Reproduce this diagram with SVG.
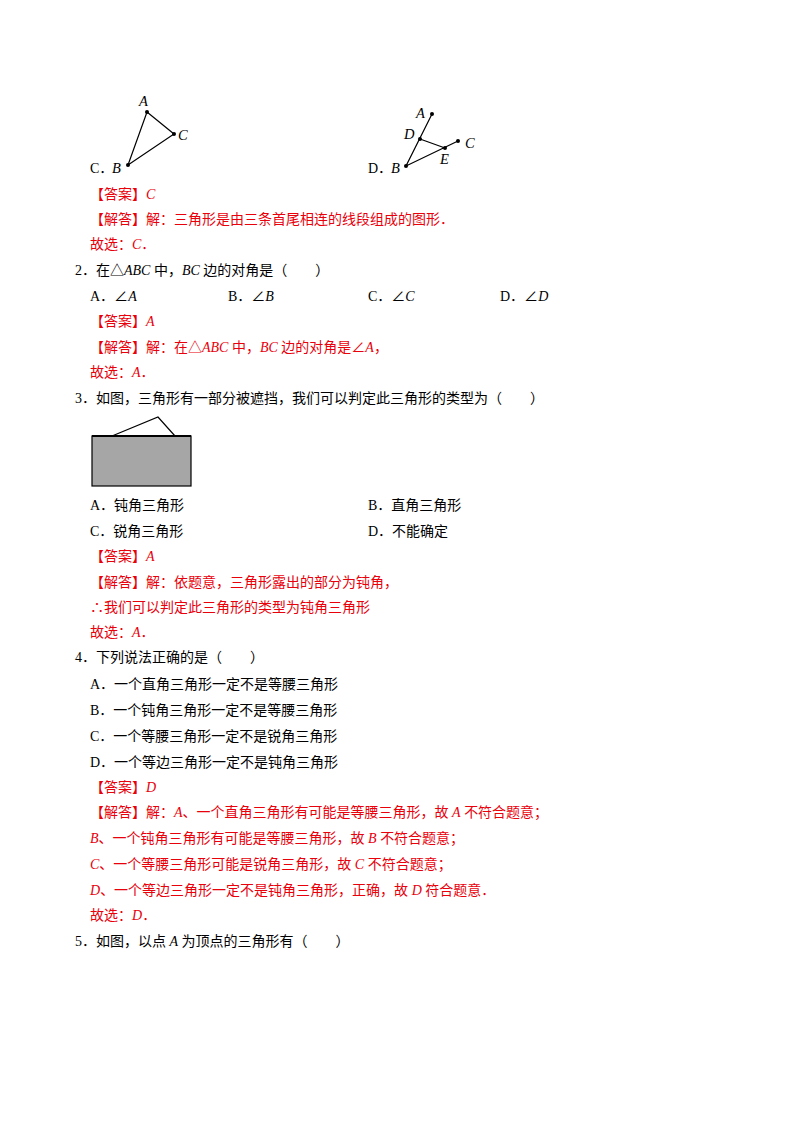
<svg xmlns="http://www.w3.org/2000/svg" width="800" height="1132" viewBox="0 0 800 1132">
<style>
text{font-family:"Liberation Serif","Noto Sans CJK SC",serif;font-size:14px;fill:#000}
.r{fill:#e8000b}
.i{font-style:italic}
.l{font-family:"Liberation Serif",serif;font-style:italic;font-size:14.5px}
.ln{stroke:#000;stroke-width:1.2;fill:none}
</style>
<rect width="800" height="1132" fill="#fff"/>
<g id="figC">
<path class="ln" d="M147,112 L174,134 L128,165 Z"/>
<circle cx="147" cy="112" r="2"/><circle cx="174" cy="134" r="2"/><circle cx="128" cy="165" r="2"/>
<text class="l" x="139" y="106">A</text><text class="l" x="178" y="140">C</text><text class="l" x="112" y="173">B</text>
<text x="90" y="173">C．</text>
</g>
<g id="figD">
<path class="ln" d="M432,114 L406,166 L458,141 M420,139 L445,148"/>
<circle cx="432" cy="114" r="2"/><circle cx="420" cy="139" r="2"/><circle cx="445" cy="148" r="2"/><circle cx="458" cy="141" r="2"/><circle cx="406" cy="166" r="2"/>
<text class="l" x="416" y="118">A</text><text class="l" x="404" y="139">D</text><text class="l" x="465" y="148">C</text><text class="l" x="440" y="164">E</text><text class="l" x="391" y="173">B</text>
<text x="368" y="173">D．</text>
</g>
<g id="fig3">
<rect x="92" y="436" width="99" height="50" fill="#a6a6a6" stroke="#000" stroke-width="1.2"/>
<path class="ln" d="M112,436 L158,417 L175,436"/>
<line x1="92" y1="436" x2="191" y2="436" stroke="#000" stroke-width="2"/>
</g>
<g id="text">
<text class="r" x="90" y="199">【答案】<tspan class="i">C</tspan></text>
<text class="r" x="90" y="224">【解答】解：三角形是由三条首尾相连的线段组成的图形．</text>
<text class="r" x="90" y="249">故选：<tspan class="i">C</tspan>．</text>
<text x="75" y="275">2．在△<tspan class="i">ABC</tspan> 中，<tspan class="i">BC</tspan> 边的对角是（　　）</text>
<text x="90" y="301">A．∠<tspan class="i">A</tspan></text>
<text x="228" y="301">B．∠<tspan class="i">B</tspan></text>
<text x="368" y="301">C．∠<tspan class="i">C</tspan></text>
<text x="500" y="301">D．∠<tspan class="i">D</tspan></text>
<text class="r" x="90" y="326">【答案】<tspan class="i">A</tspan></text>
<text class="r" x="90" y="352">【解答】解：在△<tspan class="i">ABC</tspan> 中，<tspan class="i">BC</tspan> 边的对角是∠<tspan class="i">A</tspan>，</text>
<text class="r" x="90" y="377">故选：<tspan class="i">A</tspan>．</text>
<text x="75" y="403">3．如图，三角形有一部分被遮挡，我们可以判定此三角形的类型为（　　）</text>
<text x="90" y="510">A．钝角三角形</text>
<text x="368" y="510">B．直角三角形</text>
<text x="90" y="536">C．锐角三角形</text>
<text x="368" y="536">D．不能确定</text>
<text class="r" x="90" y="561">【答案】<tspan class="i">A</tspan></text>
<text class="r" x="90" y="587">【解答】解：依题意，三角形露出的部分为钝角，</text>
<text class="r" x="90" y="612">∴我们可以判定此三角形的类型为钝角三角形</text>
<text class="r" x="90" y="637">故选：<tspan class="i">A</tspan>．</text>
<text x="75" y="662">4．下列说法正确的是（　　）</text>
<text x="90" y="689">A．一个直角三角形一定不是等腰三角形</text>
<text x="90" y="715">B．一个钝角三角形一定不是等腰三角形</text>
<text x="90" y="741">C．一个等腰三角形一定不是锐角三角形</text>
<text x="90" y="767">D．一个等边三角形一定不是钝角三角形</text>
<text class="r" x="90" y="792">【答案】<tspan class="i">D</tspan></text>
<text class="r" x="90" y="817">【解答】解：<tspan class="i">A</tspan>、一个直角三角形有可能是等腰三角形，故 <tspan class="i">A</tspan> 不符合题意；</text>
<text class="r" x="90" y="843"><tspan class="i">B</tspan>、一个钝角三角形有可能是等腰三角形，故 <tspan class="i">B</tspan> 不符合题意；</text>
<text class="r" x="90" y="869"><tspan class="i">C</tspan>、一个等腰三角形可能是锐角三角形，故 <tspan class="i">C</tspan> 不符合题意；</text>
<text class="r" x="90" y="895"><tspan class="i">D</tspan>、一个等边三角形一定不是钝角三角形，正确，故 <tspan class="i">D</tspan> 符合题意．</text>
<text class="r" x="90" y="920">故选：<tspan class="i">D</tspan>．</text>
<text x="75" y="946">5．如图，以点 <tspan class="i">A</tspan> 为顶点的三角形有（　　）</text>
</g>
</svg>
